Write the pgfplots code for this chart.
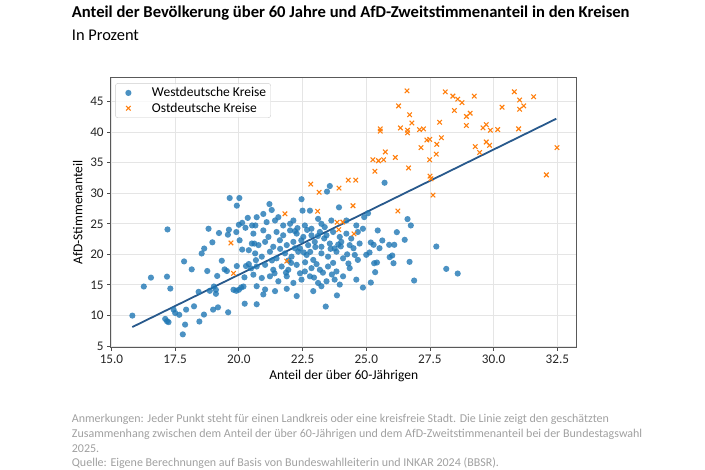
\documentclass[border=0pt]{standalone}
\usepackage{fontspec}
\setmainfont{Carlito}
\usepackage{pgfplots}
\pgfplotsset{compat=1.18}
\definecolor{mplblue}{HTML}{1F77B4}
\definecolor{mplorange}{HTML}{FF7F0E}
\definecolor{linecol}{HTML}{28598C}
\definecolor{notegray}{HTML}{A0A0A0}
\begin{document}
\begin{tikzpicture}[x=1pt,y=1pt]
\path[use as bounding box] (0,0) rectangle (705,470);
\node[anchor=base west, inner sep=0pt, font=\bfseries\fontsize{16.6}{19}\selectfont] at (71.7,452.5) {Anteil der Bevölkerung über 60 Jahre und AfD-Zweitstimmenanteil in den Kreisen};
\node[anchor=base west, inner sep=0pt, font=\fontsize{16.4}{19}\selectfont] at (71.7,429) {In Prozent};
\begin{axis}[
  at={(110.7pt,122.5pt)}, anchor=south west,
  scale only axis, width=466pt, height=270pt,
  xmin=14.97, xmax=33.26, ymin=4.75, ymax=48.95,
  xtick={15,17.5,20,22.5,25,27.5,30,32.5},
  ytick={5,10,15,20,25,30,35,40,45},
  xticklabel style={/pgf/number format/.cd, fixed, fixed zerofill, precision=1},
  /pgf/number format/assume math mode=true,
  tick label style={font=\fontsize{13.2}{15}\selectfont, color=black!85},
  tick pos=left, tick align=outside, major tick length=3.5pt,
  every tick/.style={black!70, line width=0.8pt},
  axis line style={black!65, line width=0.9pt},
  grid=major, major grid style={draw=black!10, line width=0.8pt},
  xlabel={Anteil der über 60-Jährigen},
  ylabel={AfD-Stimmenanteil},
  label style={font=\fontsize{13.5}{15}\selectfont},
  xlabel style={at={(axis description cs:0.5,-0.104)}, anchor=center},
  ylabel style={at={(axis description cs:-0.0708,0.5)}, anchor=center},
  legend style={at={(0,1)}, anchor=north west, xshift=4.5pt, yshift=-5.7pt,
    draw=black!20, rounded corners=2.5pt, fill=white, fill opacity=0.8, text opacity=1,
    font=\fontsize{13.5}{15}\selectfont, inner xsep=3pt, inner ysep=2.5pt,
    nodes={inner sep=1.6pt}, row sep=1.2pt},
  legend cell align=left,
  legend image code/.code={\path[draw=none,fill=none] (0pt,-3pt) rectangle (32pt,3pt); \draw[#1] plot coordinates {(10pt,0pt)};},
]
\addplot[only marks, mark=*, mark size=3.1pt, color=mplblue, mark options={draw opacity=0, fill opacity=0.8}] table {
15.82 9.97
16.27 14.73
16.55 16.19
17.20 24.08
17.18 16.35
17.31 14.40
17.11 9.43
17.18 9.05
17.24 8.90
17.44 10.95
17.50 10.40
17.66 10.10
17.80 6.90
17.89 8.50
17.93 10.95
17.85 18.84
18.15 17.54
18.24 11.49
18.45 9.00
18.63 10.14
18.42 13.86
18.54 20.14
18.64 20.95
18.76 17.27
18.81 24.19
18.96 21.97
18.86 14.03
19.02 14.73
19.10 14.19
19.10 13.54
18.99 10.95
19.18 11.32
19.15 16.46
19.22 23.49
19.33 18.95
19.44 17.54
19.53 17.27
19.58 10.51
19.57 23.22
19.61 24.03
19.64 29.22
19.92 27.97
20.02 29.22
19.90 23.65
19.92 18.08
20.03 22.30
20.00 24.84
20.13 25.16
20.26 24.35
20.13 20.78
20.22 16.24
19.79 14.20
19.90 14.03
20.00 14.20
20.09 14.57
20.18 14.73
20.23 11.92
20.28 18.08
20.35 25.97
20.39 20.68
20.61 21.76
20.52 24.73
20.65 24.73
20.67 19.05
20.39 18.41
20.48 17.70
23.57 31.18
23.46 30.27
25.72 31.72
22.46 29.03
21.20 28.23
21.29 27.26
22.50 27.15
22.79 27.15
23.93 27.69
20.70 26.08
20.96 26.61
21.55 26.08
22.14 25.54
23.11 25.81
23.24 25.00
23.63 25.54
21.09 25.27
21.42 25.54
21.74 24.73
22.01 25.00
22.59 24.73
22.85 24.19
23.37 24.46
24.22 25.54
24.61 24.73
24.87 24.19
20.57 23.39
20.96 23.92
21.16 22.85
21.48 23.66
21.74 23.12
22.01 23.92
22.27 23.39
22.53 22.85
22.85 23.12
23.18 23.66
23.44 23.12
23.70 23.66
23.96 22.85
24.22 23.39
24.41 22.58
24.67 23.66
20.51 21.77
20.77 21.51
21.03 22.04
21.35 21.24
21.61 22.31
21.88 21.51
22.14 22.04
22.40 20.97
22.72 21.51
22.98 22.04
23.24 21.24
23.57 21.77
23.76 20.97
24.02 22.04
24.35 21.51
24.74 21.77
20.64 20.16
20.90 19.62
21.22 20.43
21.48 19.35
21.81 20.16
22.07 19.62
22.33 20.43
22.66 19.89
22.92 19.09
23.24 20.16
23.50 19.62
23.83 20.43
24.09 19.35
24.35 17.74
24.67 19.09
20.70 18.01
21.03 18.28
21.35 17.47
21.68 18.01
21.94 17.47
22.27 18.28
22.59 17.20
22.85 17.74
23.18 17.47
23.50 18.01
23.83 17.20
24.09 16.40
24.61 15.86
20.57 16.67
20.90 16.13
21.22 16.40
21.55 15.59
21.88 16.40
22.14 15.32
22.46 15.86
22.79 16.40
23.11 15.32
23.44 15.59
23.76 15.86
23.96 15.05
20.70 14.78
21.03 14.25
21.42 13.98
21.88 14.35
22.27 13.17
22.92 13.98
23.24 14.78
23.85 13.28
20.70 11.83
20.96 13.44
23.41 11.45
21.62 20.90
21.95 19.00
22.20 21.00
22.45 22.30
22.60 18.70
22.80 20.40
23.00 21.20
23.05 18.40
23.35 22.60
23.60 20.90
23.70 18.60
24.00 21.30
24.25 20.00
24.50 21.00
22.20 23.80
22.68 24.00
21.30 19.00
21.85 17.00
22.40 16.90
22.95 16.20
23.30 17.00
23.65 16.70
24.30 18.50
24.55 19.90
22.05 18.60
22.55 20.30
21.40 16.90
23.90 21.60
22.30 24.30
23.10 23.00
24.92 26.09
25.07 26.72
26.62 25.77
26.75 24.73
25.45 23.91
26.20 23.63
26.51 22.38
25.63 22.27
25.18 21.94
25.29 21.56
25.52 21.01
25.90 21.56
26.10 21.56
27.75 21.28
25.00 19.92
25.13 20.30
25.92 19.54
26.02 19.81
26.07 18.55
26.70 18.77
25.31 18.55
25.42 18.66
25.35 17.08
28.14 17.62
28.59 16.86
26.88 15.71
25.18 15.38
24.87 14.56
};
\addlegendentry{Westdeutsche Kreise}
\addplot[only marks, mark=x, mark size=3.2pt, color=mplorange, mark options={line width=1.1pt}] table {
19.69 21.86
19.79 16.89
21.88 18.90
21.81 26.64
23.09 27.05
24.48 27.95
23.86 25.25
24.08 25.28
23.92 24.04
24.52 23.35
22.82 31.50
23.15 30.15
23.93 30.85
24.29 32.15
24.59 32.15
25.34 33.60
26.24 27.10
27.62 29.70
27.50 32.80
27.54 32.37
26.60 46.77
26.27 44.30
26.70 42.85
26.79 41.51
25.55 40.54
25.55 40.16
26.34 40.70
26.62 40.32
26.62 39.89
27.09 40.43
27.25 40.54
27.88 41.61
27.38 38.71
27.49 38.82
27.15 37.47
27.77 38.01
27.95 39.09
27.75 36.40
27.49 35.48
25.75 36.77
25.26 35.48
25.48 35.32
25.68 35.48
26.14 35.86
26.66 34.14
28.10 46.60
28.40 45.90
28.59 45.40
28.76 44.84
29.24 45.90
28.46 43.55
28.93 42.58
29.08 43.10
28.93 41.08
29.58 40.70
29.71 41.24
29.87 40.32
30.16 40.43
29.28 37.63
29.71 38.39
29.84 37.85
29.45 36.67
30.33 44.09
30.81 46.61
31.02 45.27
31.18 44.30
31.02 43.76
31.57 45.81
30.98 40.54
32.49 37.47
32.07 33.01
};
\addlegendentry{Ostdeutsche Kreise}
\addplot[linecol, line width=1.8pt, forget plot] coordinates {(15.82,8.10) (32.46,42.20)};
\end{axis}
\begin{scope}[every node/.style={anchor=base west, inner sep=0pt, text=notegray, font=\fontsize{12}{14}\selectfont}]
\node at (71.7,47.5) {Anmerkungen: Jeder Punkt steht für einen Landkreis oder eine kreisfreie Stadt. Die Linie zeigt den geschätzten};
\node at (71.7,32.5) {Zusammenhang zwischen dem Anteil der über 60-Jährigen und dem AfD-Zweitstimmenanteil bei der Bundestagswahl};
\node at (71.7,17.8) {2025.};
\node at (71.7,3.6) {Quelle: Eigene Berechnungen auf Basis von Bundeswahlleiterin und INKAR 2024 (BBSR).};
\end{scope}
\end{tikzpicture}
\end{document}
